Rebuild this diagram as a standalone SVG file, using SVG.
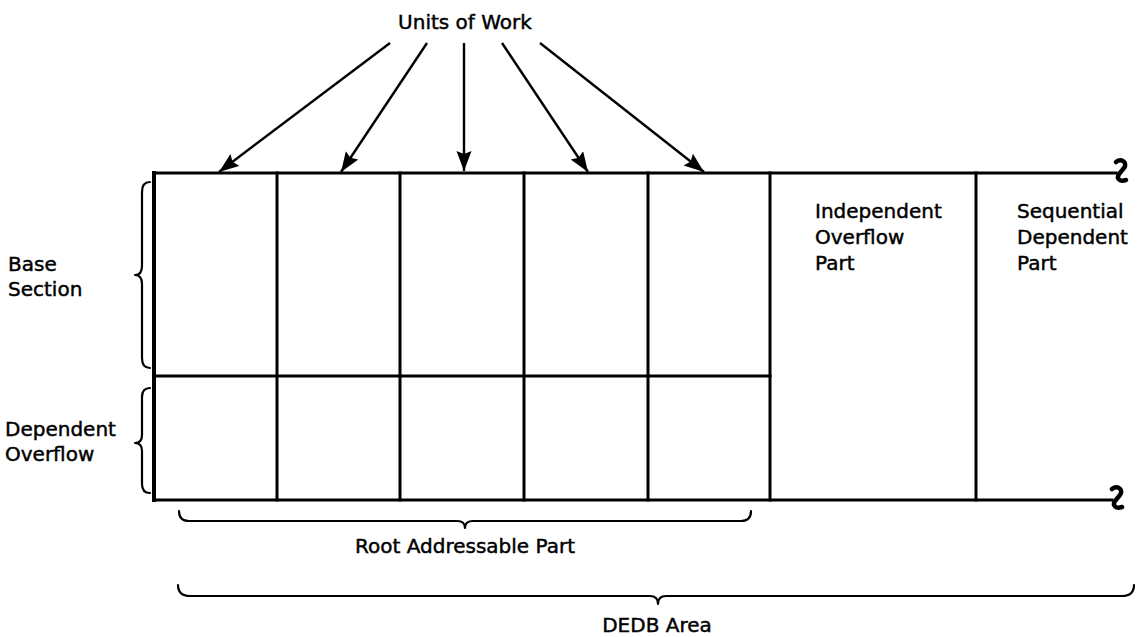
<svg xmlns="http://www.w3.org/2000/svg" width="1137" height="637" viewBox="0 0 1137 637">
<style>
  .t{font-family:"DejaVu Sans","Liberation Sans",sans-serif;font-size:20px;fill:#000;stroke:#000;stroke-width:0.45}
  .m{text-anchor:middle}
  .ln{stroke:#000;stroke-width:3;fill:none;stroke-linecap:square}
  .br{stroke:#000;stroke-width:2.2;fill:none;stroke-linejoin:round;stroke-linecap:round}
  .ar{stroke:#000;stroke-width:2.4;fill:none}
  .bk{stroke:#000;stroke-width:4.5;fill:none;stroke-linecap:round}
</style>
<defs>
  <marker id="ah" markerUnits="userSpaceOnUse" markerWidth="22" markerHeight="16" refX="20" refY="7.5" orient="auto">
    <path d="M0,0 L20,7.5 L0,15 L3,7.5 z" fill="#000"/>
  </marker>
</defs>
<rect width="1137" height="637" fill="#fff"/>

<g id="units-label">
  <text class="t m" x="465" y="29">Units of Work</text>
</g>

<g id="connectors">
  <line class="ar" x1="390" y1="43" x2="219" y2="172" marker-end="url(#ah)"/>
  <line class="ar" x1="427" y1="43" x2="341" y2="172" marker-end="url(#ah)"/>
  <line class="ar" x1="464" y1="43" x2="464" y2="171" marker-end="url(#ah)"/>
  <line class="ar" x1="502" y1="43" x2="588" y2="172" marker-end="url(#ah)"/>
  <line class="ar" x1="540" y1="43" x2="704" y2="172" marker-end="url(#ah)"/>
</g>

<g id="dedb-area">
  <line class="ln" x1="154" y1="173" x2="1116" y2="173"/>
  <line class="ln" x1="154" y1="500" x2="1112" y2="500"/>
  <line class="ln" x1="154" y1="173" x2="154" y2="500" style="stroke-width:4"/>
  <path class="bk" d="M1116,162 C1121,158 1128,162 1124,168 L1119,174 C1116,179 1120,182 1126,180"/>
  <path class="bk" d="M1112,489 C1117,485 1124,489 1120,495 L1115,501 C1112,506 1116,509 1122,507"/>
</g>

<g id="root-addressable-part">
  <line class="ln" x1="277" y1="173" x2="277" y2="500"/>
  <line class="ln" x1="400" y1="173" x2="400" y2="500"/>
  <line class="ln" x1="524" y1="173" x2="524" y2="500"/>
  <line class="ln" x1="648" y1="173" x2="648" y2="500"/>
  <line class="ln" x1="770" y1="173" x2="770" y2="500"/>
  <line class="ln" x1="154" y1="376" x2="770" y2="376"/>
</g>

<g id="independent-overflow-part">
  <line class="ln" x1="976" y1="173" x2="976" y2="500"/>
  <text class="t" x="815" y="218">Independent</text>
  <text class="t" x="815" y="244">Overflow</text>
  <text class="t" x="815" y="270">Part</text>
</g>

<g id="sequential-dependent-part">
  <text class="t" x="1017" y="218">Sequential</text>
  <text class="t" x="1017" y="244">Dependent</text>
  <text class="t" x="1017" y="270">Part</text>
</g>

<g id="base-section">
  <path class="br" d="M150,182 Q142,182 142,192 L142,266 Q142,275 135,275 Q142,275 142,284 L142,358 Q142,368 150,368"/>
  <text class="t" x="8" y="271">Base</text>
  <text class="t" x="8" y="296">Section</text>
</g>

<g id="dependent-overflow">
  <path class="br" d="M150,388 Q142,388 142,397 L142,435 Q142,443 135,443 Q142,443 142,451 L142,484 Q142,493 150,493"/>
  <text class="t" x="5" y="436">Dependent</text>
  <text class="t" x="5" y="461">Overflow</text>
</g>

<g id="root-addressable-brace">
  <path class="br" d="M179,511 Q179,521 189,521 L457,521 Q465,521 465,528 Q465,521 473,521 L741,521 Q751,521 751,511"/>
  <text class="t m" x="465" y="553">Root Addressable Part</text>
</g>

<g id="dedb-brace">
  <path class="br" d="M178,585 Q178,596 190,596 L650,596 Q658,596 658,604 Q658,596 666,596 L1122,596 Q1134,596 1134,585"/>
  <text class="t m" x="657" y="632">DEDB Area</text>
</g>
</svg>
